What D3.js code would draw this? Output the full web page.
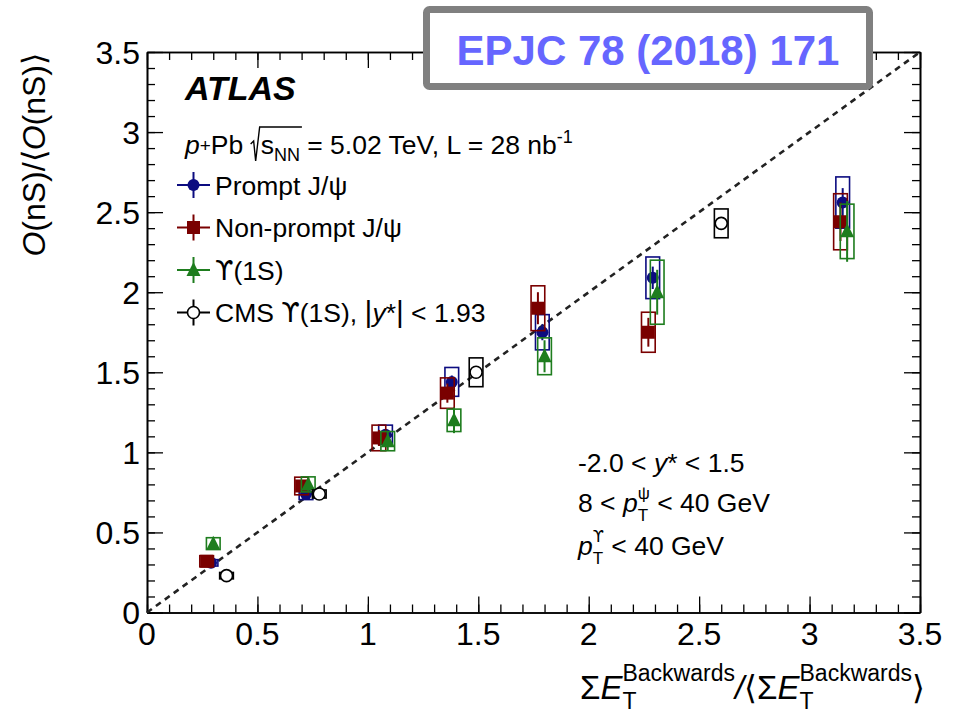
<!DOCTYPE html>
<html>
<head>
<meta charset="utf-8">
<script src="https://cdn.jsdelivr.net/npm/d3@7"></script>
<style>
  html, body { margin: 0; padding: 0; background: #fff; }
  svg text { font-family: "Liberation Sans", Arial, sans-serif; }
</style>
</head>
<body>
<svg id="chart" width="953" height="717"></svg>
<script>
// Axis ranges and tick values
const xMajorTicks = [0, 0.5, 1, 1.5, 2, 2.5, 3, 3.5];
const yMajorTicks = [0, 0.5, 1, 1.5, 2, 2.5, 3, 3.5];
const xTickLabels = ["0", "0.5", "1", "1.5", "2", "2.5", "3", "3.5"];
const yTickLabels = ["0", "0.5", "1", "1.5", "2", "2.5", "3", "3.5"];

// Prompt J/psi
const promptX = [0.29, 0.72, 1.08, 1.38, 1.79, 2.29, 3.15];
const promptY = [0.31, 0.74, 1.11, 1.44, 1.75, 2.09, 2.56];
const promptStat = [0.01, 0.02, 0.03, 0.04, 0.05, 0.07, 0.09];
const promptSys = [0.02, 0.035, 0.06, 0.09, 0.11, 0.13, 0.16];

// Non-prompt J/psi
const nonpromptX = [0.27, 0.70, 1.05, 1.36, 1.77, 2.27, 3.14];
const nonpromptY = [0.32, 0.79, 1.09, 1.37, 1.90, 1.75, 2.44];
const nonpromptStat = [0.02, 0.03, 0.05, 0.06, 0.10, 0.09, 0.12];
const nonpromptSys = [0.035, 0.055, 0.08, 0.095, 0.14, 0.125, 0.175];

// Upsilon(1S)
const upsX = [0.30, 0.73, 1.09, 1.39, 1.80, 2.31, 3.17];
const upsY = [0.43, 0.80, 1.07, 1.20, 1.60, 2.00, 2.38];
const upsStat = [0.02, 0.04, 0.06, 0.08, 0.10, 0.14, 0.19];
const upsSys = [0.037, 0.047, 0.06, 0.07, 0.115, 0.20, 0.17];

// CMS Upsilon(1S)
const cmsX = [0.36, 0.78, 1.49, 2.60];
const cmsY = [0.23, 0.74, 1.50, 2.43];
const cmsStat = [0.01, 0.01, 0.02, 0.03];
const cmsSys = [0.02, 0.025, 0.09, 0.09];

const sysHalfWidth = 0.031;

const svg = d3.select("#chart");
const x = d3.scaleLinear().domain([0, 3.5]).range([147, 920]);
const y = d3.scaleLinear().domain([0, 3.5]).range([612.5, 52]);

const colPrompt = "#0c0c80";
const colNonprompt = "#7a0000";
const colUps = "#1e7d1e";
const colCms = "#000000";
const upsFont = "'DejaVu Sans', 'Liberation Sans', sans-serif";
const fs = 26.5; // body text size

// ---- frame and ticks ----
const minorTicks = d3.range(0, 3.5001, 0.1).map(v => +v.toFixed(2));
const frame = svg.append("g");

function axisLines(gen, transform, values, size) {
  const g = frame.append("g").attr("transform", transform)
    .call(gen.tickValues(values).tickSize(size).tickSizeOuter(0).tickFormat(""));
  g.selectAll("path.domain").attr("stroke", "#000").attr("stroke-width", 1.6);
  g.selectAll(".tick line").attr("stroke", "#000").attr("stroke-width", 1.3);
  g.selectAll("text").remove();
  return g;
}
// bottom & top
axisLines(d3.axisBottom(x), `translate(0,${y(0)})`, minorTicks, -8);
axisLines(d3.axisBottom(x), `translate(0,${y(0)})`, xMajorTicks, -16);
axisLines(d3.axisTop(x), `translate(0,${y(3.5)})`, minorTicks, -8);
axisLines(d3.axisTop(x), `translate(0,${y(3.5)})`, xMajorTicks, -16);
// left & right
axisLines(d3.axisLeft(y), `translate(${x(0)},0)`, minorTicks, -8);
axisLines(d3.axisLeft(y), `translate(${x(0)},0)`, yMajorTicks, -16);
axisLines(d3.axisRight(y), `translate(${x(3.5)},0)`, minorTicks, -8);
axisLines(d3.axisRight(y), `translate(${x(3.5)},0)`, yMajorTicks, -16);

// tick labels
svg.append("g").selectAll("text").data(xMajorTicks).join("text")
  .attr("x", d => x(d)).attr("y", 645)
  .attr("text-anchor", "middle").attr("font-size", 32).attr("fill", "#000")
  .text((d, i) => xTickLabels[i]);
svg.append("g").selectAll("text").data(yMajorTicks).join("text")
  .attr("x", 140).attr("y", d => y(d) + 11.5)
  .attr("text-anchor", "end").attr("font-size", 32).attr("fill", "#000")
  .text((d, i) => yTickLabels[i]);

// ---- diagonal reference line ----
svg.append("line")
  .attr("x1", x(0)).attr("y1", y(0)).attr("x2", x(3.5)).attr("y2", y(3.5))
  .attr("stroke", "#222").attr("stroke-width", 2.6).attr("stroke-dasharray", "6,5");

// ---- data series ----
function drawSeries(xs, ys, stat, sys, color, marker) {
  const g = svg.append("g");
  const pts = xs.map((v, i) => ({ x: v, y: ys[i], st: stat[i], sy: sys[i] }));
  g.selectAll("rect.sys").data(pts).join("rect").attr("class", "sys")
    .attr("x", d => x(d.x - sysHalfWidth)).attr("width", d => x(d.x + sysHalfWidth) - x(d.x - sysHalfWidth))
    .attr("y", d => y(d.y + d.sy)).attr("height", d => y(d.y - d.sy) - y(d.y + d.sy))
    .attr("fill", "none").attr("stroke", color).attr("stroke-width", 1.6);
  g.selectAll("line.stat").data(pts).join("line").attr("class", "stat")
    .attr("x1", d => x(d.x)).attr("x2", d => x(d.x))
    .attr("y1", d => y(d.y + d.st)).attr("y2", d => y(d.y - d.st))
    .attr("stroke", color).attr("stroke-width", 2);
  g.selectAll("g.m").data(pts).join("g").attr("class", "m")
    .attr("transform", d => `translate(${x(d.x)},${y(d.y)})`)
    .each(function () { marker(d3.select(this), color); });
}

function circleMarker(sel, color) {
  sel.append("circle").attr("r", 6).attr("fill", color);
}
function squareMarker(sel, color) {
  sel.append("rect").attr("x", -6.5).attr("y", -6.5).attr("width", 13).attr("height", 13).attr("fill", color);
}
function triangleMarker(sel, color) {
  sel.append("path").attr("d", "M0,-8 L7,6 L-7,6 Z").attr("fill", color);
}
function openCircleMarker(sel, color) {
  sel.append("circle").attr("r", 6).attr("fill", "#fff").attr("stroke", color).attr("stroke-width", 1.6);
}

drawSeries(promptX, promptY, promptStat, promptSys, colPrompt, circleMarker);
drawSeries(nonpromptX, nonpromptY, nonpromptStat, nonpromptSys, colNonprompt, squareMarker);
drawSeries(upsX, upsY, upsStat, upsSys, colUps, triangleMarker);
drawSeries(cmsX, cmsY, cmsStat, cmsSys, colCms, openCircleMarker);

// ---- rich text helper: sequential runs with sub/superscripts ----
function styleRun(t, r, fill) {
  t.attr("font-size", r.size).attr("fill", fill)
    .attr("font-style", r.italic ? "italic" : "normal")
    .attr("font-weight", r.bold ? "bold" : "normal")
    .style("white-space", "pre");
  if (r.family) t.style("font-family", r.family);
  return t;
}
function rich(parent, x0, y0, runs, opts = {}) {
  const g = parent.append("g");
  const fill = opts.fill || "#000";
  let cx = x0;
  const marks = {};
  for (const r of runs) {
    if (r.mark) { marks[r.mark] = cx; continue; }
    if (r.stack) {
      let w = 0;
      for (const part of r.stack) {
        const t = styleRun(g.append("text").attr("x", cx).attr("y", y0 + (part.dy || 0)), part, fill).text(part.t);
        w = Math.max(w, t.node().getComputedTextLength());
      }
      cx += w;
      continue;
    }
    const t = styleRun(g.append("text").attr("x", cx).attr("y", y0 + (r.dy || 0)), r, fill).text(r.t);
    cx += t.node().getComputedTextLength() + (r.gap || 0);
  }
  return { g, width: cx - x0, marks };
}

// ---- labels in the plot ----
rich(svg, 185, 100, [{ t: "ATLAS", size: 34, bold: true, italic: true }]);

const energy = rich(svg, 185, 154, [
  { t: "p", size: fs, italic: true },
  { t: "+", size: 19, dy: -2 },
  { t: "Pb ", size: fs },
  { mark: "sq0" },
  { t: "   ", size: 12 },
  { mark: "sq1" },
  { t: "s", size: fs },
  { t: "NN", size: 18, dy: 7 },
  { mark: "sq2" },
  { t: " = 5.02 TeV, L = 28 nb", size: fs },
  { t: "-1", size: 18, dy: -11 }
]);
{
  const m = energy.marks;
  const a = m.sq0, b = m.sq1 - 1;
  energy.g.append("path")
    .attr("d", `M${a},144 L${a + 3},141 L${b - 4},161 L${b},127 L${m.sq2 + 2},127`)
    .attr("fill", "none").attr("stroke", "#000").attr("stroke-width", 1.4);
}

// legend
const legendRows = [
  { runs: [{ t: "Prompt J/", size: fs }, { t: "ψ", size: fs }], color: colPrompt, marker: circleMarker },
  { runs: [{ t: "Non-prompt J/", size: fs }, { t: "ψ", size: fs }], color: colNonprompt, marker: squareMarker },
  { runs: [{ t: "ϒ", size: fs, family: upsFont }, { t: "(1S)", size: fs }], color: colUps, marker: triangleMarker },
  { runs: [{ t: "CMS ", size: fs }, { t: "ϒ", size: fs, family: upsFont }, { t: "(1S), ", size: fs }, { t: "|", size: 30 }, { t: "y", size: fs, italic: true }, { t: "*", size: fs }, { t: "|", size: 30 }, { t: " < 1.93", size: fs }], color: colCms, marker: openCircleMarker }
];
const legendY0 = 185, legendDy = 42.5;
legendRows.forEach((row, i) => {
  const cy = legendY0 + i * legendDy;
  const lg = svg.append("g");
  lg.append("line").attr("x1", 177).attr("x2", 210).attr("y1", cy).attr("y2", cy)
    .attr("stroke", row.color).attr("stroke-width", 2);
  lg.append("line").attr("x1", 193.5).attr("x2", 193.5).attr("y1", cy - 13).attr("y2", cy + 13)
    .attr("stroke", row.color).attr("stroke-width", 2);
  const mg = lg.append("g").attr("transform", `translate(193.5,${cy})`);
  row.marker(mg, row.color);
  rich(svg, 215, cy + 9.5, row.runs);
});

// kinematic selection
rich(svg, 578, 472, [
  { t: "-2.0 < ", size: fs }, { t: "y", size: fs, italic: true }, { t: "* < 1.5", size: fs }
]);
rich(svg, 578, 512, [
  { t: "8 < ", size: fs }, { t: "p", size: fs, italic: true },
  { stack: [{ t: "ψ", size: 17, dy: -13 }, { t: "T", size: 17, dy: 9 }] },
  { t: " < 40 GeV", size: fs }
]);
rich(svg, 578, 555, [
  { t: "p", size: fs, italic: true },
  { stack: [{ t: "ϒ", size: 16, dy: -13, family: upsFont }, { t: "T", size: 17, dy: 9 }] },
  { t: " < 40 GeV", size: fs }
]);

// ---- axis titles ----
const xt = rich(svg, 0, 699, [
  { t: "Σ", size: 33 }, { t: "E", size: 33, italic: true },
  { stack: [{ t: "Backwards", size: 23, dy: -18 }, { t: "T", size: 23, dy: 10 }] },
  { t: "/", size: 33, italic: true }, { t: "⟨", size: 33 },
  { t: "Σ", size: 33 }, { t: "E", size: 33, italic: true },
  { stack: [{ t: "Backwards", size: 23, dy: -18 }, { t: "T", size: 23, dy: 10 }] },
  { t: "⟩", size: 33 }
]);
xt.g.attr("transform", `translate(${925 - xt.width},0)`);

const ytG = svg.append("g").attr("transform", "translate(45,53) rotate(-90)");
const yt = rich(ytG, 0, 0, [
  { t: "O", size: 32, italic: true }, { t: "(nS)/⟨", size: 32 },
  { t: "O", size: 32, italic: true }, { t: "(nS)⟩", size: 32 }
]);
yt.g.attr("transform", `translate(${-yt.width},0)`);

// ---- publication reference box ----
svg.append("rect").attr("x", 426.5).attr("y", 9.5).attr("width", 443).attr("height", 77)
  .attr("rx", 3).attr("fill", "#fff").attr("stroke", "#808080").attr("stroke-width", 7);
svg.append("text").attr("x", 648).attr("y", 65).attr("text-anchor", "middle")
  .attr("font-size", 42).attr("font-weight", "bold").attr("fill", "#6666ff")
  .text("EPJC 78 (2018) 171");
</script>
</body>
</html>
